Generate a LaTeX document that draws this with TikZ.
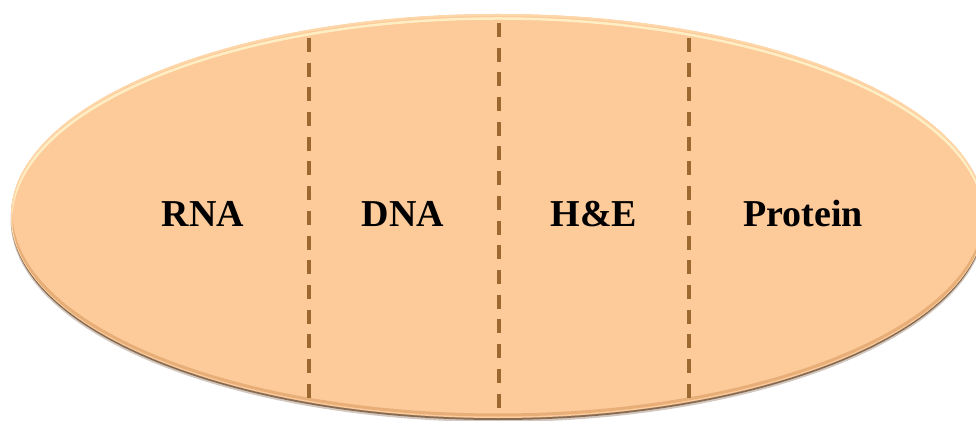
\documentclass[tikz,border=0pt]{standalone}
\usepackage{fontspec}
\setmainfont{Liberation Serif}
\definecolor{ovalfill}{HTML}{FDCA9A}
\definecolor{ovalhi}{HTML}{FFF2C8}
\definecolor{ovalshadow}{HTML}{6E4A2C}
\definecolor{ovallow}{HTML}{E7AE78}
\definecolor{divider}{HTML}{9C6830}
\tikzset{
  divline/.style={draw=divider, line width=3.4pt, dash pattern=on 14pt off 10.7pt},
  label/.style={font=\fontsize{38}{40}\selectfont\bfseries, anchor=base, inner sep=0pt},
}
\begin{document}
\begin{tikzpicture}[x=1pt,y=1pt]
\useasboundingbox (0,0) rectangle (976,420);
% shadow
\fill[ovalshadow, opacity=0.3] (498,200.5) ellipse [x radius=487.5, y radius=202.5];
\fill[ovalshadow, opacity=0.75] (498,202) ellipse [x radius=487, y radius=202];
% main oval
\fill[ovalfill] (498,204) ellipse [x radius=487, y radius=202];
\begin{scope}
  \clip (498,204) ellipse [x radius=487, y radius=202];
  \draw[ovallow, line width=3pt] (498,207) ellipse [x radius=487, y radius=202];
  \draw[ovalhi, line width=2.5pt, opacity=0.9] (498,199.5) ellipse [x radius=487, y radius=202];
  \draw[ovalfill!70!ovalhi, line width=2pt] (498,203) ellipse [x radius=487, y radius=202];
\end{scope}
% dividers
\coordinate (d1t) at (309,382);
\coordinate (d1b) at (309,18);
\coordinate (d2t) at (499,397);
\coordinate (d2b) at (499,10);
\coordinate (d3t) at (689,382);
\coordinate (d3b) at (689,18);
\draw[divline] (d1t) -- (d1b);
\draw[divline] (d2t) -- (d2b);
\draw[divline] (d3t) -- (d3b);
% labels
\node[label] (rna) at (203,193.3) {RNA};
\node[label] (dna) at (403,193.3) {DNA};
\node[label] (he) at (594,193.3) {H\&E};
\node[label] (prot) at (803,193.3) {Protein};
\end{tikzpicture}
\end{document}
